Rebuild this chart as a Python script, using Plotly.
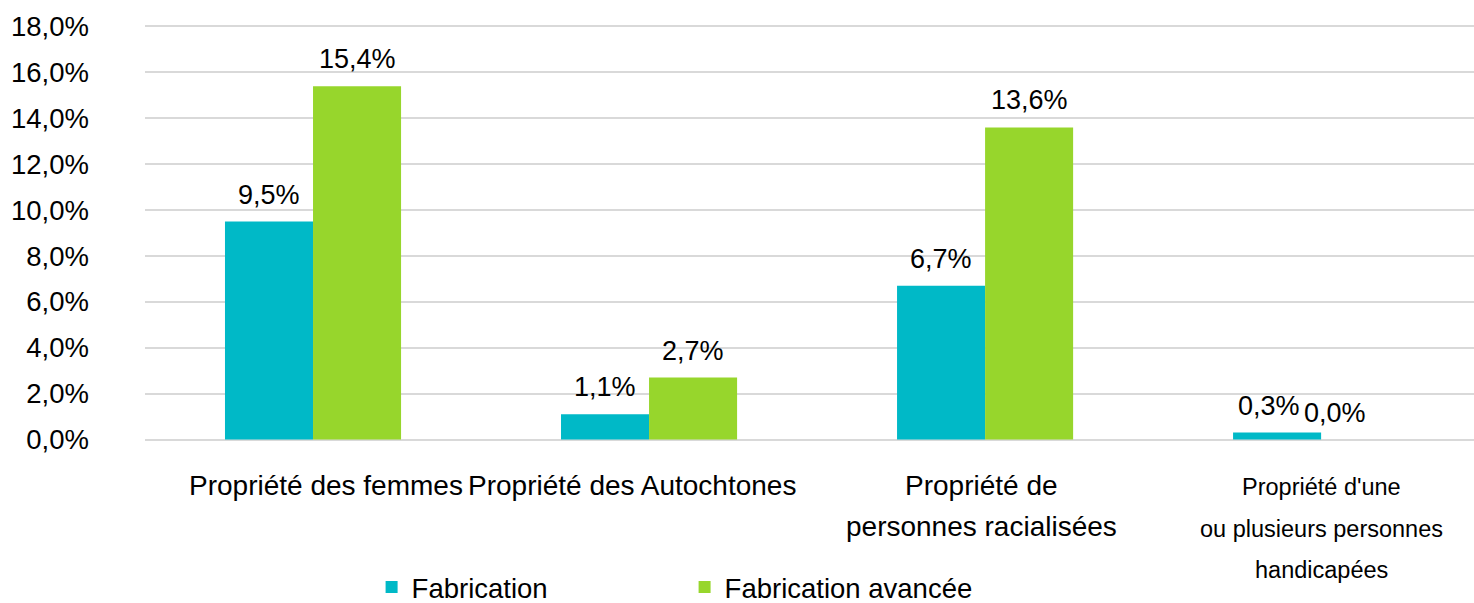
import plotly.graph_objects as go

categories = ["Propriété des femmes", "Propriété des Autochtones",
              "Propriété de personnes racialisées",
              "Propriété d'une ou plusieurs personnes handicapées"]
cat_lines = [["Propriété des femmes"], ["Propriété des Autochtones"],
             ["Propriété de", "personnes racialisées"],
             ["Propriété d'une", "ou plusieurs personnes", "handicapées"]]
series_names = ["Fabrication", "Fabrication avancée"]
fabrication = [9.5, 1.1, 6.7, 0.3]
fabrication_avancee = [15.4, 2.7, 13.6, 0.0]
y_ticks = [0, 2, 4, 6, 8, 10, 12, 14, 16, 18]

colors = ["#00B9C7", "#97D62C"]
FONT = "Liberation Sans, Arial, sans-serif"

def fmt(v):
    return f"{v:.1f}".replace(".", ",") + "%"

fig = go.Figure()
for name, vals, col in zip(series_names, [fabrication, fabrication_avancee], colors):
    fig.add_trace(go.Bar(x=categories, y=vals, name=name, marker_color=col,
                         marker_line_width=0, hoverinfo="skip"))

# data labels (label nudges for the last, crowded group)
label_dx = [[0, 0, 0, -8], [0, 0, 0, -30]]
for si, vals in enumerate([fabrication, fabrication_avancee]):
    xs = -44 if si == 0 else 44
    for ci, (c, v) in enumerate(zip(categories, vals)):
        fig.add_annotation(x=c, y=v, xref="x", yref="y", text=fmt(v),
                           showarrow=False, yanchor="bottom",
                           xshift=xs + label_dx[si][ci], yshift=10,
                           font=dict(size=27, color="#000000", family=FONT))

# category labels
PLOT_BOTTOM = 441
x_shifts = [13, -17, -4, 0]
for ci, (c, lines) in enumerate(zip(categories, cat_lines)):
    if ci < 3:
        size, baselines = 28, [495, 536]
    else:
        size, baselines = 23.5, [495, 537, 578]
    for li, line in enumerate(lines):
        center = baselines[li] - 0.35 * size
        fig.add_annotation(x=c, y=0, xref="x", yref="paper", text=line,
                           showarrow=False, yanchor="middle", xshift=x_shifts[ci],
                           yshift=-(center - PLOT_BOTTOM),
                           font=dict(size=size, color="#000000", family=FONT))

fig.update_layout(
    width=1474, height=603,
    margin=dict(l=145, r=0, t=25, b=603 - PLOT_BOTTOM, autoexpand=False),
    paper_bgcolor="white", plot_bgcolor="white",
    barmode="group", bargap=0.476, bargroupgap=0,
    font=dict(family=FONT, size=27, color="#000000"),
    showlegend=True,
    legend=dict(orientation="h", x=0.1705, xanchor="left",
                yref="container", y=1 - 587 / 603, yanchor="middle",
                font=dict(size=27.5, family=FONT), entrywidth=268, entrywidthmode="pixels",
                bgcolor="rgba(0,0,0,0)"),
    xaxis=dict(range=[-0.5, 3.455], showticklabels=False, showgrid=False,
               zeroline=False, showline=False, ticks="", automargin=False),
    yaxis=dict(range=[-0.065, 18.065], tickvals=y_ticks, ticktext=[fmt(v) for v in y_ticks],
               showgrid=True, gridcolor="#D9D9D9", gridwidth=1.5,
               zeroline=False, showline=False, ticks="", automargin=False,
               ticklabelstandoff=55, tickfont=dict(size=27.5, family=FONT)),
)

fig.write_html("out.html", config={"displayModeBar": False},
               post_script="document.body.style.margin='0';document.body.style.overflow='hidden';")
